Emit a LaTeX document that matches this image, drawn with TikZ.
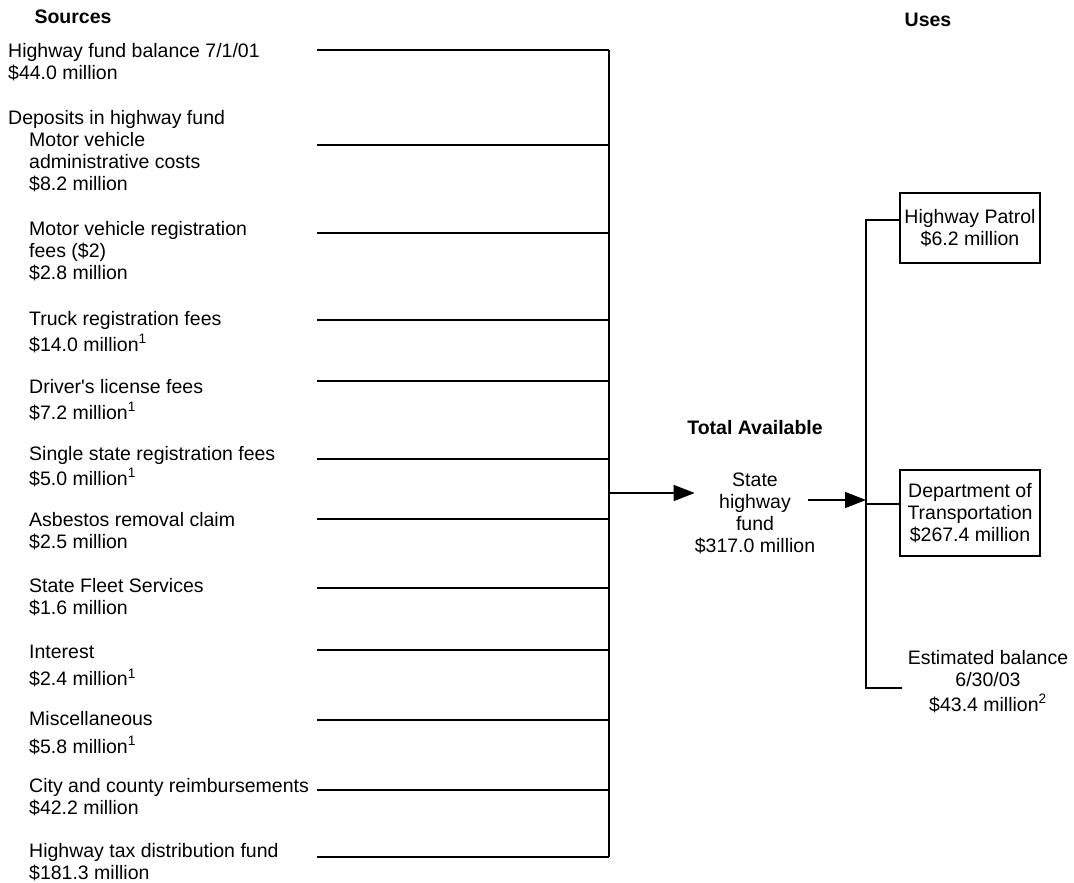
\documentclass[tikz,border=0pt]{standalone}
\usepackage{fontspec}
\setmainfont{Liberation Sans}
\usetikzlibrary{arrows.meta}

\begin{document}
\begin{tikzpicture}[x=1pt, y=-1pt,
		every node/.style={font=\fontsize{19.5}{22}\selectfont, inner sep=0pt},
		source/.style={align=left, anchor=north west},
		heading/.style={font=\fontsize{19.5}{22}\selectfont\bfseries},
		outbox/.style={draw, line width=1.6pt, align=center, minimum width=140pt},
		feed/.style={line width=1.6pt},
		arrow/.style={-{Triangle[length=21pt, width=16pt]}, line width=1.6pt}
		]
		\useasboundingbox (0,0) rectangle (1074,883);
		
		% Headings
		\node[heading] (srchead) at (73,17) {Sources};
		\node[heading] (usehead) at (928,20) {Uses};
		\node[heading] (totalhead) at (755,428) {Total Available};
		
		% Sources
		\node[source] (hfb) at (8,43) {Highway fund balance 7/1/01\\\$44.0 million};
		\node[source] (dep) at (8,110) {Deposits in highway fund};
		\node[source] (mva) at (29,132) {Motor vehicle\\administrative costs\\\$8.2 million};
		\node[source] (mvr) at (29,221) {Motor vehicle registration\\fees (\$2)\\\$2.8 million};
		\node[source] (trk) at (29,311) {Truck registration fees\\[4pt]\$14.0 million\textsuperscript{1}};
		\node[source] (dlf) at (29,379) {Driver\textquotesingle s license fees\\[4pt]\$7.2 million\textsuperscript{1}};
		\node[source] (ssr) at (29,446) {Single state registration fees\\[3pt]\$5.0 million\textsuperscript{1}};
		\node[source] (asb) at (29,512) {Asbestos removal claim\\\$2.5 million};
		\node[source] (sfs) at (29,578) {State Fleet Services\\\$1.6 million};
		\node[source] (int) at (29,645) {Interest\\[5pt]\$2.4 million\textsuperscript{1}};
		\node[source] (misc) at (29,711) {Miscellaneous\\[6pt]\$5.8 million\textsuperscript{1}};
		\node[source] (city) at (29,778) {City and county reimbursements\\\$42.2 million};
		\node[source] (htd) at (29,843) {Highway tax distribution fund\\\$181.3 million};
		
		% Feeder lines into the left bus
		\coordinate (bustop) at (609,50);
		\coordinate (busbot) at (609,857);
		\coordinate (in1) at (317,50);
		\coordinate (in2) at (317,145);
		\coordinate (in3) at (317,233);
		\coordinate (in4) at (317,320);
		\coordinate (in5) at (317,381);
		\coordinate (in6) at (317,459);
		\coordinate (in7) at (317,519);
		\coordinate (in8) at (317,588);
		\coordinate (in9) at (317,650);
		\coordinate (in10) at (317,720);
		\coordinate (in11) at (317,790);
		\coordinate (in12) at (317,857);
		\foreach \n in {1,...,12}
		\draw[feed] (in\n) -- (in\n -| bustop);
		\draw[feed] (bustop) -- (busbot);
		
		% Total available
		\node[align=center, anchor=north] (fund) at (755,473) {State\\highway\\fund\\\$317.0 million};
		\coordinate (midin) at (609,493);
		\coordinate (midout) at (808,500);
		\draw[arrow] (midin) -- (midin -| fund.west);
		
		% Uses
		\node[outbox, minimum height=70pt] (hp) at (970,228) {Highway Patrol\\\$6.2 million};
		\node[outbox, minimum height=86pt] (dot) at (970,513) {Department of\\Transportation\\\$267.4 million};
		\node[align=center, anchor=north] (bal) at (988,650) {Estimated balance\\6/30/03\\[3pt]\$43.4 million\textsuperscript{2}};
		
		\coordinate (usetop) at (866,220);
		\coordinate (usebot) at (866,688);
		\coordinate (dotin) at (866,504);
		\coordinate (balin) at (902,688);
		\draw[feed] (hp.west |- usetop) -- (usetop) -- (usebot) -- (balin);
		\draw[feed] (dotin) -- (dotin -| dot.west);
		\draw[arrow] (midout) -- (midout -| usetop);
		
	\end{tikzpicture}
\end{document}
